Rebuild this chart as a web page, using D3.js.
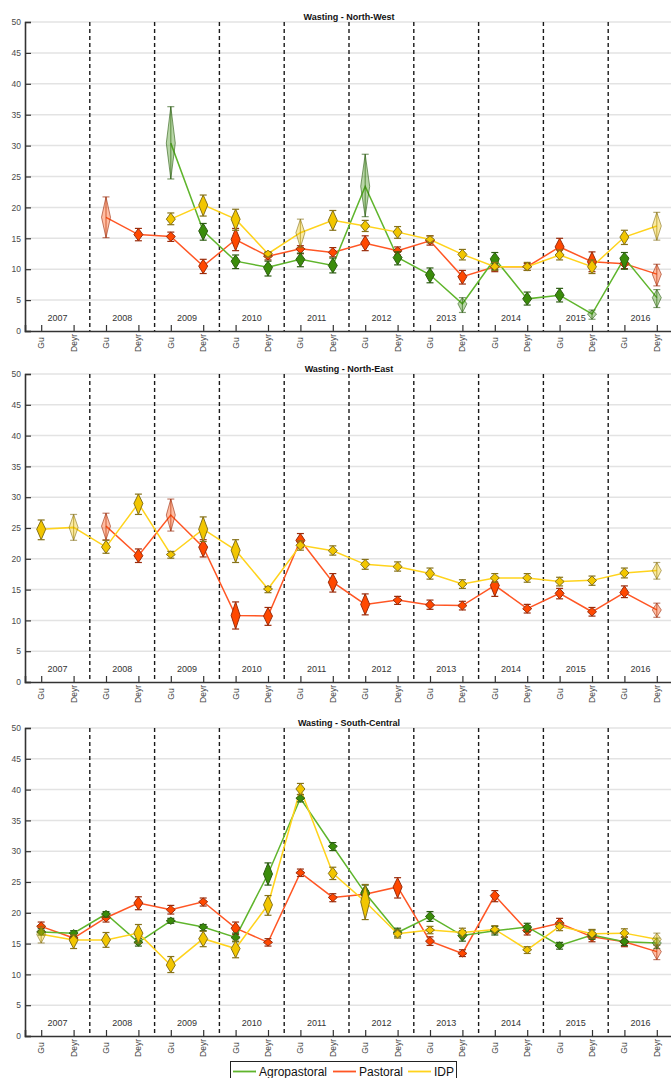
<!DOCTYPE html>
<html>
<head>
<meta charset="utf-8">
<script src="https://cdn.jsdelivr.net/npm/d3@7/dist/d3.min.js"></script>
<style>
  html, body { margin: 0; padding: 0; background: #fff; }
  svg { display: block; font-family: "Liberation Sans", Arial, sans-serif; }
</style>
</head>
<body>
<svg id="chart" width="671" height="1078"></svg>
<script>
// Survey rounds: two seasons (Gu, Deyr) per year
const years = [2007, 2008, 2009, 2010, 2011, 2012, 2013, 2014, 2015, 2016];
const seasons = ["Gu", "Deyr"];
const yTicks = [0, 5, 10, 15, 20, 25, 30, 35, 40, 45, 50];

// Each entry: [estimate, lower CI, upper CI]; null = no survey
const nwAgro = [null, null, null, null, [30.4, 24.6, 36.3], [16.2, 14.7, 17.4], [11.3, 10.1, 12.3], [10.3, 8.9, 11.3],
  [11.6, 10.4, 12.6], [10.6, 9.4, 11.8], [23.4, 18.5, 28.6], [11.9, 10.7, 12.8], [9.1, 7.8, 10.2], [4.4, 3.0, 5.4],
  [11.7, 9.9, 12.7], [5.2, 4.2, 6.3], [5.8, 4.7, 6.9], [2.75, 1.9, 3.4], [11.8, 10.0, 12.7], [5.4, 3.8, 6.7]];
const nwPast = [null, null, [18.4, 15.1, 21.7], [15.6, 14.6, 16.6], [15.3, 14.5, 16.0], [10.5, 9.3, 11.6], [14.8, 13.0, 16.6],
  [12.1, 11.5, 12.7], [13.3, 12.5, 13.8], [12.7, 12.0, 13.5], [14.2, 13.0, 15.4], [13.0, 12.3, 13.6], [14.6, 13.9, 15.4],
  [8.8, 7.6, 9.8], [10.4, 9.6, 11.2], [10.4, 9.8, 10.9], [13.6, 12.3, 15.0], [11.2, 9.6, 12.8], [10.9, 10.1, 11.8], [9.2, 7.3, 10.8]];
const nwIdp = [null, null, null, null, [18.1, 17.2, 19.1], [20.4, 18.6, 22.0], [18.1, 16.3, 19.7], [12.5, 12.0, 12.8],
  [15.9, 13.5, 18.1], [17.9, 16.3, 19.5], [17.0, 16.1, 17.9], [16.0, 15.0, 16.9], [14.8, 14.3, 15.4], [12.4, 11.5, 13.2],
  [10.4, 9.8, 11.1], [10.4, 9.8, 11.1], [12.3, 11.5, 13.1], [10.4, 9.3, 11.5], [15.2, 14.0, 16.3], [17.0, 14.7, 19.2]];

const nePast = [null, null, [25.3, 23.1, 27.4], [20.5, 19.4, 21.6], [27.1, 24.5, 29.7], [21.9, 20.3, 23.1], [10.8, 8.6, 13.0],
  [10.7, 9.2, 12.1], [23.0, 21.8, 24.1], [16.2, 14.6, 17.6], [12.6, 10.9, 14.3], [13.3, 12.6, 13.9], [12.5, 11.8, 13.3],
  [12.4, 11.7, 13.1], [15.7, 13.9, 17.0], [11.9, 11.2, 12.6], [14.4, 13.5, 15.2], [11.4, 10.7, 12.1], [14.5, 13.7, 15.6], [11.7, 10.5, 12.8]];
const neIdp = [[24.8, 23.1, 26.3], [25.1, 23.0, 27.2], [21.9, 20.9, 23.0], [29.0, 27.2, 30.5], [20.7, 20.1, 21.2],
  [24.8, 22.8, 26.8], [21.4, 19.4, 23.1], [15.1, 14.5, 15.5], [22.2, 21.4, 22.9], [21.3, 20.6, 22.1], [19.1, 18.3, 19.9],
  [18.7, 18.0, 19.5], [17.6, 16.7, 18.5], [15.9, 15.2, 16.6], [16.9, 16.2, 17.6], [16.9, 16.2, 17.6], [16.3, 15.6, 17.0],
  [16.5, 15.7, 17.2], [17.7, 16.9, 18.5], [18.1, 16.7, 19.4]];

const scAgro = [[16.9, 16.4, 17.4], [16.7, 16.1, 17.1], [19.8, 19.3, 20.2], [15.2, 14.6, 15.8], [18.7, 18.3, 19.1],
  [17.7, 17.1, 18.1], [16.0, 15.3, 16.7], [26.3, 24.5, 28.1], [38.6, 38.0, 39.2], [30.8, 30.1, 31.4], [23.2, 21.8, 24.5],
  [16.8, 16.1, 17.5], [19.4, 18.6, 20.2], [16.3, 15.4, 17.1], [17.1, 16.4, 17.8], [17.7, 16.9, 18.3], [14.7, 14.1, 15.2],
  [16.4, 15.7, 17.2], [15.3, 14.7, 16.0], [15.1, 14.2, 15.9]];
const scPast = [[17.8, 17.1, 18.5], [15.9, 15.2, 16.4], [19.2, 18.5, 19.9], [21.6, 20.5, 22.6], [20.5, 19.8, 21.2],
  [21.8, 21.1, 22.4], [17.5, 16.5, 18.5], [15.2, 14.6, 15.8], [26.5, 25.9, 27.1], [22.5, 21.8, 23.1], [23.0, 22.1, 23.6],
  [24.2, 22.4, 25.7], [15.4, 14.7, 16.1], [13.4, 12.9, 14.0], [22.8, 21.8, 23.6], [17.1, 16.4, 17.9], [18.3, 17.6, 19.1],
  [16.1, 15.3, 16.8], [15.3, 14.5, 16.1], [13.7, 12.4, 14.8]];
const scIdp = [[16.5, 15.1, 17.8], [15.6, 14.2, 16.4], [15.6, 14.4, 16.8], [16.7, 15.1, 18.1], [11.5, 10.3, 12.9],
  [15.8, 14.5, 17.0], [14.2, 12.7, 15.4], [21.3, 19.6, 22.8], [40.1, 39.2, 41.0], [26.4, 25.4, 27.4], [21.8, 18.9, 24.6],
  [16.6, 15.9, 17.2], [17.2, 16.6, 17.8], [16.8, 16.1, 17.5], [17.3, 16.7, 17.9], [14.0, 13.4, 14.5], [17.8, 17.1, 18.4],
  [16.6, 15.9, 17.3], [16.7, 16.0, 17.4], [15.7, 14.7, 16.7]];

// Rounds drawn faded (indices into the round list)
const nwAgroFaint = [4, 10, 13, 17, 19];
const nwPastFaint = [2, 19];
const nwIdpFaint = [8, 19];
const nePastFaint = [2, 4, 19];
const neIdpFaint = [1, 19];
const scAgroFaint = [19];
const scPastFaint = [19];
const scIdpFaint = [0, 19];

const groups = ["Agropastoral", "Pastoral", "IDP"];
const lineColors = { Agropastoral: "#5fb52c", Pastoral: "#ff5624", IDP: "#ffd31c" };
const fillColors = { Agropastoral: "#3a8c0a", Pastoral: "#ff4800", IDP: "#f2c600" };
const edgeColors = { Agropastoral: "#2c5c12", Pastoral: "#9a2c0c", IDP: "#86721a" };

const panels = [
  { title: "Wasting - North-West", top: 22, bottom: 331,
    series: [["Pastoral", nwPast, nwPastFaint], ["Agropastoral", nwAgro, nwAgroFaint], ["IDP", nwIdp, nwIdpFaint]] },
  { title: "Wasting - North-East", top: 374, bottom: 682,
    series: [["Pastoral", nePast, nePastFaint], ["IDP", neIdp, neIdpFaint]] },
  { title: "Wasting - South-Central", top: 728, bottom: 1036,
    series: [["Pastoral", scPast, scPastFaint], ["Agropastoral", scAgro, scAgroFaint], ["IDP", scIdp, scIdpFaint]] }
];

const rounds = [];
years.forEach(y => seasons.forEach(s => rounds.push({ year: y, season: s })));

const svg = d3.select("#chart");
const W = 671;
const x = d3.scaleLinear().domain([-0.5, rounds.length - 0.5]).range([25, 673]);

panels.forEach(p => {
  const y = d3.scaleLinear().domain([0, 50]).range([p.bottom, p.top]);
  const g = svg.append("g");

  // horizontal grid
  g.selectAll("line.grid").data(yTicks.filter(t => t > 0)).join("line")
    .attr("x1", x(-0.5)).attr("x2", W)
    .attr("y1", d => y(d)).attr("y2", d => y(d))
    .attr("stroke", "#e3e3e3").attr("stroke-width", 1.5);

  // year separators
  g.selectAll("line.sep").data(years.slice(1)).join("line")
    .attr("x1", (d, i) => x(2 * (i + 1) - 0.5)).attr("x2", (d, i) => x(2 * (i + 1) - 0.5))
    .attr("y1", p.top).attr("y2", p.bottom)
    .attr("stroke", "#1a1a1a").attr("stroke-width", 1.4).attr("stroke-dasharray", "4,3");

  // y axis
  const yAxis = d3.axisLeft(y).tickValues(yTicks).tickSize(-6).tickPadding(4);
  const ya = g.append("g").attr("transform", `translate(${x(-0.5)},0)`).call(yAxis);
  ya.select(".domain").attr("stroke", "#333").attr("stroke-width", 1.6);
  ya.selectAll(".tick line").attr("stroke", "#333").attr("stroke-width", 1.2);
  ya.selectAll(".tick text").attr("fill", "#4a4a4a").attr("font-size", 8.5)
    .attr("font-family", "Liberation Sans, Arial, sans-serif");

  // x axis
  const xAxis = d3.axisBottom(x).tickValues(d3.range(rounds.length)).tickSize(-6).tickFormat(() => "");
  const xa = g.append("g").attr("transform", `translate(0,${p.bottom})`).call(xAxis);
  xa.select(".domain").attr("stroke", "#333").attr("stroke-width", 1.6);
  xa.selectAll(".tick line").attr("stroke", "#333").attr("stroke-width", 1.2);

  g.selectAll("text.season").data(rounds).join("text")
    .attr("transform", (d, i) => `translate(${x(i) + 3},${p.bottom + 12}) rotate(-90)`)
    .attr("text-anchor", "middle").attr("font-size", 8.5).attr("fill", "#444")
    .text(d => d.season);

  // year labels
  g.selectAll("text.year").data(years).join("text")
    .attr("x", (d, i) => x(2 * i + 0.5)).attr("y", p.bottom - 10)
    .attr("text-anchor", "middle").attr("font-size", 9).attr("fill", "#333")
    .text(d => d);

  // title
  g.append("text").attr("x", (x(-0.5) + x(rounds.length - 0.5)) / 2).attr("y", p.top - 2)
    .attr("text-anchor", "middle").attr("font-size", 9).attr("font-weight", "bold").attr("fill", "#111")
    .text(p.title);

  // series lines
  const line = d3.line().defined(d => d.v !== null).x(d => x(d.i)).y(d => y(d.v[0]));
  p.series.forEach(([name, vals]) => {
    g.append("path").datum(vals.map((v, i) => ({ i, v })))
      .attr("d", line).attr("fill", "none")
      .attr("stroke", lineColors[name]).attr("stroke-width", 1.5);
  });

  // estimates with confidence intervals
  p.series.forEach(([name, vals, faint]) => {
    const pts = vals.map((v, i) => ({ i, v, faint: faint.includes(i) })).filter(d => d.v !== null);
    const m = g.selectAll(null).data(pts).join("g")
      .attr("stroke-opacity", d => d.faint ? 0.6 : 1);
    m.append("line")
      .attr("x1", d => x(d.i)).attr("x2", d => x(d.i))
      .attr("y1", d => y(d.v[1])).attr("y2", d => y(d.v[2]))
      .attr("stroke", edgeColors[name]).attr("stroke-width", 1.2);
    [1, 2].forEach(k => {
      m.append("line")
        .attr("x1", d => x(d.i) - 3.5).attr("x2", d => x(d.i) + 3.5)
        .attr("y1", d => y(d.v[k])).attr("y2", d => y(d.v[k]))
        .attr("stroke", edgeColors[name]).attr("stroke-width", 1.2);
    });
    m.append("path")
      .attr("d", d => {
        const cx = x(d.i), cy = y(d.v[0]);
        const top = Math.min(y(d.v[2]), cy - 3.5), bot = Math.max(y(d.v[1]), cy + 3.5);
        const hw = 4.5;
        return `M${cx},${top}L${cx + hw},${cy}L${cx},${bot}L${cx - hw},${cy}Z`;
      })
      .attr("fill", fillColors[name]).attr("fill-opacity", d => d.faint ? 0.36 : 1)
      .attr("stroke", edgeColors[name]).attr("stroke-width", 1);
  });
});

// legend
const leg = svg.append("g");
leg.append("rect").attr("x", 230.5).attr("y", 1061.5).attr("width", 226).attr("height", 20)
  .attr("fill", "#fff").attr("stroke", "#222").attr("stroke-width", 1);
const legX = [233, 333, 408];
groups.forEach((name, i) => {
  leg.append("line").attr("x1", legX[i]).attr("x2", legX[i] + 23).attr("y1", 1071.5).attr("y2", 1071.5)
    .attr("stroke", lineColors[name]).attr("stroke-width", 1.8);
  leg.append("text").attr("x", legX[i] + 26).attr("y", 1076).attr("font-size", 12).attr("fill", "#111")
    .text(name);
});
</script>
</body>
</html>
